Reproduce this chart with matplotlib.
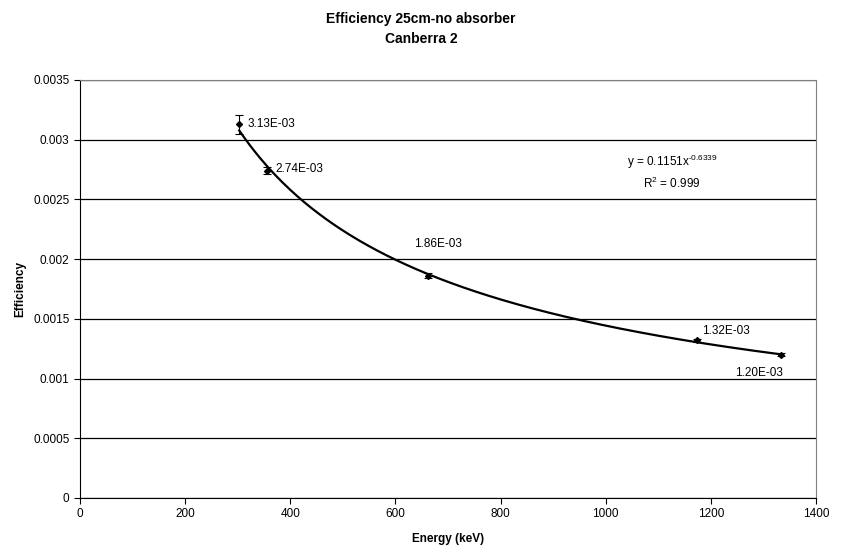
import numpy as np
import matplotlib.pyplot as plt

plt.rcParams['font.family'] = ['Liberation Sans', 'DejaVu Sans']
plt.rcParams['mathtext.fontset'] = 'custom'
plt.rcParams['mathtext.rm'] = 'Liberation Sans'
plt.rcParams['mathtext.default'] = 'regular'

# data points
energy = [302.9, 356.0, 661.7, 1173.2, 1332.5]
eff = [3.13e-3, 2.74e-3, 1.86e-3, 1.32e-3, 1.20e-3]
err = [8e-5, 3e-5, 2e-5, 1.5e-5, 1.5e-5]
labels = ["3.13E-03", "2.74E-03", "1.86E-03", "1.32E-03", "1.20E-03"]
# label offsets in points
offs = [(6, 0), (6, 1), (-10, 23), (4, 7), (-33, -13)]

# power trendline coefficients shown on chart
fit_a = 0.1151
fit_b = -0.6339

fig = plt.figure(figsize=(8.42, 5.51), dpi=100)
ax = fig.add_axes([80/842, 53/551, 736/842, 418/551])

xf = np.linspace(energy[0], energy[-1], 300)
ax.plot(xf, fit_a * xf**fit_b, color='black', lw=1.6, zorder=3)

ax.errorbar(energy, eff, yerr=err, fmt='D', ms=3, color='black',
            ecolor='black', elinewidth=0.8, capsize=3, capthick=0.8, zorder=4)

for x, y, t, o in zip(energy, eff, labels, offs):
    ax.annotate(t, (x, y), xytext=o, textcoords='offset points',
                fontsize=8.5, va='center', ha='left')

ax.text(1126, 2.73e-3, "y = 0.1151x$^{\u20100.6339}$" + "\n" + r"R$^{2}$ = 0.999",
        fontsize=8.5, ha='center', va='center', linespacing=1.4)

ax.set_xlim(0, 1400)
ax.set_ylim(0, 0.0035)
ax.set_xticks(np.arange(0, 1401, 200))
ax.set_yticks(np.arange(0, 0.00351, 0.0005))
ax.set_yticklabels(["0", "0.0005", "0.001", "0.0015", "0.002", "0.0025", "0.003", "0.0035"])
ax.yaxis.grid(True, color='black', lw=0.9)
ax.set_axisbelow(True)
ax.tick_params(labelsize=8.5, direction='out', length=4, color='black')

for s in ['top', 'right']:
    ax.spines[s].set_color('#808080')
for s in ['left', 'bottom']:
    ax.spines[s].set_color('black')

ax.set_xlabel("Energy (keV)", fontsize=8.5, fontweight='bold', labelpad=9)
ax.set_ylabel("Efficiency", fontsize=8.5, fontweight='bold', labelpad=5)
fig.suptitle("Efficiency 25cm-no absorber\nCanberra 2", fontsize=10,
             fontweight='bold', y=0.978, linespacing=1.5)

fig.savefig("out.png", dpi=100)
